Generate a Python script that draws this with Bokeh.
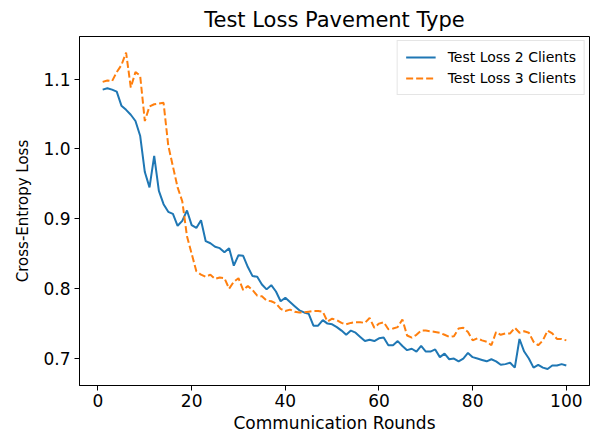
from bokeh.plotting import figure
from bokeh.models import Range1d, Legend, LegendItem, FixedTicker
from bokeh.embed import file_html
from bokeh.resources import INLINE

rounds = list(range(1, 101))

loss_2_clients = [
    1.085, 1.087, 1.085, 1.082, 1.062, 1.056, 1.049, 1.040, 1.019, 0.967,
    0.945, 0.990, 0.940, 0.921, 0.910, 0.907, 0.890, 0.897, 0.912, 0.891,
    0.887, 0.898, 0.868, 0.865, 0.860, 0.858, 0.852, 0.858, 0.833, 0.848,
    0.847, 0.831, 0.818, 0.817, 0.806, 0.799, 0.805, 0.796, 0.782, 0.787,
    0.781, 0.775, 0.769, 0.766, 0.764, 0.747, 0.747, 0.755, 0.750, 0.749,
    0.745, 0.740, 0.734, 0.740, 0.737, 0.731, 0.725, 0.727, 0.725, 0.729,
    0.730, 0.719, 0.719, 0.725, 0.718, 0.712, 0.714, 0.710, 0.718, 0.710,
    0.710, 0.713, 0.702, 0.707, 0.699, 0.700, 0.696, 0.700, 0.708, 0.702,
    0.700, 0.698, 0.696, 0.699, 0.696, 0.691, 0.692, 0.694, 0.687, 0.728,
    0.710, 0.700, 0.687, 0.691, 0.687, 0.685, 0.690, 0.690, 0.692, 0.690,
]

loss_3_clients = [
    1.096, 1.098, 1.097, 1.110, 1.120, 1.138, 1.088, 1.110, 1.105, 1.040,
    1.061, 1.064, 1.065, 1.066, 1.005, 0.975, 0.945, 0.925, 0.875, 0.850,
    0.825, 0.820, 0.817, 0.820, 0.814, 0.816, 0.815, 0.800, 0.810, 0.815,
    0.798, 0.804, 0.798, 0.790, 0.789, 0.783, 0.782, 0.779, 0.771, 0.768,
    0.770, 0.767, 0.766, 0.766, 0.767, 0.768, 0.768, 0.767, 0.753, 0.757,
    0.755, 0.751, 0.749, 0.751, 0.752, 0.752, 0.751, 0.758, 0.744, 0.750,
    0.752, 0.742, 0.743, 0.745, 0.756, 0.733, 0.730, 0.734, 0.740, 0.740,
    0.739, 0.738, 0.737, 0.734, 0.731, 0.732, 0.743, 0.744, 0.738, 0.726,
    0.729, 0.726, 0.724, 0.719, 0.738, 0.734, 0.736, 0.736, 0.744, 0.737,
    0.739, 0.737, 0.724, 0.719, 0.726, 0.740, 0.736, 0.728, 0.728, 0.726,
]

x_ticks = [0, 20, 40, 60, 80, 100]
y_ticks = [0.7, 0.8, 0.9, 1.0, 1.1]

FONT = "DejaVu Sans"

p = figure(
    output_backend="svg", toolbar_location=None,
    frame_width=510, frame_height=349,
    min_border_left=79, min_border_right=2, min_border_top=32, min_border_bottom=40,
    x_range=Range1d(-3.95, 104.95), y_range=Range1d(0.6614, 1.161),
    title="Test Loss Pavement Type",
)
p.title.align = "center"
p.title.text_font = FONT
p.title.text_font_size = "21px"
p.title.text_font_style = "normal"
p.title.text_color = "#000000"

p.outline_line_color = "#000000"
p.outline_line_width = 1
p.xgrid.visible = False
p.ygrid.visible = False

for ax in (p.xaxis, p.yaxis):
    ax.axis_line_color = "#000000"
    ax.major_tick_line_color = "#000000"
    ax.major_tick_out = 5
    ax.major_tick_in = 0
    ax.minor_tick_line_color = None
    ax.major_label_text_font = FONT
    ax.major_label_text_font_size = "17px"
    ax.major_label_text_color = "#000000"
    ax.axis_label_text_font = FONT
    ax.axis_label_text_font_style = "normal"
    ax.axis_label_text_color = "#000000"

p.xaxis.ticker = FixedTicker(ticks=x_ticks)
p.yaxis.ticker = FixedTicker(ticks=y_ticks)
p.yaxis.major_label_overrides = {t: f"{t:.1f}" for t in y_ticks}
p.xaxis.axis_label = "Communication Rounds"
p.yaxis.axis_label = "Cross-Entropy Loss"
p.xaxis.axis_label_text_font_size = "17px"
p.yaxis.axis_label_text_font_size = "15px"
p.xaxis.major_label_standoff = 3
p.xaxis.axis_label_standoff = 3
p.yaxis.major_label_standoff = 4
p.yaxis.axis_label_standoff = 8

r2 = p.line(rounds, loss_2_clients, line_color="#1f77b4", line_width=2)
r3 = p.line(rounds, loss_3_clients, line_color="#ff7f0e", line_width=2, line_dash="7 3")

legend = Legend(items=[
    LegendItem(label="Test Loss 2 Clients", renderers=[r2]),
    LegendItem(label="Test Loss 3 Clients", renderers=[r3]),
], location="top_right")
legend.label_text_font = FONT
legend.label_text_font_size = "14px"
legend.label_text_color = "#000000"
legend.border_line_color = "#cccccc"
legend.border_line_width = 1
legend.background_fill_alpha = 0.8
legend.glyph_width = 30
legend.glyph_height = 16
legend.spacing = 5
legend.padding = 8
legend.margin = 4
legend.label_standoff = 12
p.add_layout(legend)

open("out.html", "w").write(file_html(p, INLINE))
